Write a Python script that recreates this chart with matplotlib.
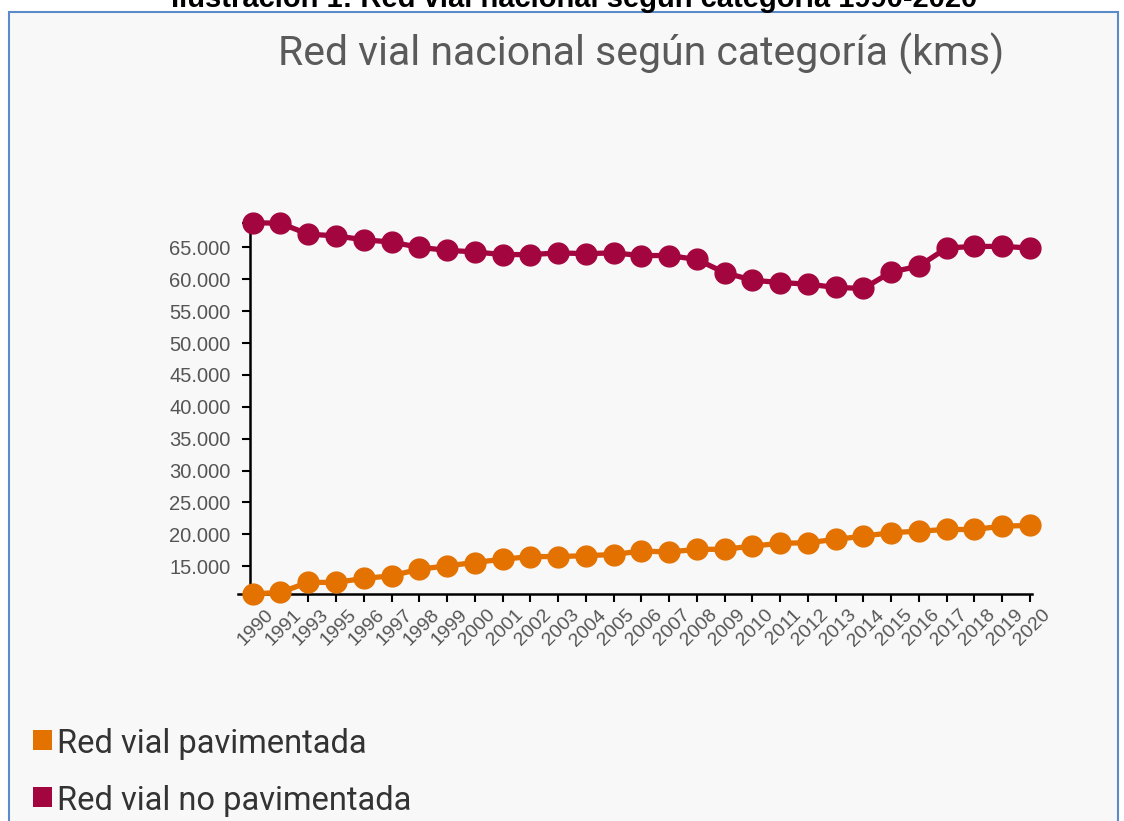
import numpy as np
import matplotlib
matplotlib.use("Agg")
import matplotlib.pyplot as plt
from matplotlib.patches import Rectangle
from matplotlib.transforms import ScaledTranslation

# datos
years = ["1990", "1991", "1993", "1995", "1996", "1997", "1998", "1999", "2000",
         "2001", "2002", "2003", "2004", "2005", "2006", "2007", "2008", "2009",
         "2010", "2011", "2012", "2013", "2014", "2015", "2016", "2017", "2018",
         "2019", "2020"]
pavimentada = [10640, 10900, 12460, 12460, 13080, 13490, 14530, 15050, 15580,
               16090, 16510, 16510, 16650, 16830, 17380, 17230, 17650, 17650,
               18160, 18580, 18690, 19200, 19720, 20250, 20500, 20760, 20760,
               21280, 21390]
no_pavimentada = [68870, 68780, 67070, 66810, 66190, 65840, 65000, 64540, 64290,
                  63870, 63870, 64130, 64020, 64130, 63720, 63720, 63100, 61040,
                  59850, 59490, 59230, 58720, 58560, 61130, 62060, 64910, 65150,
                  65150, 64910]
yticks = [15000, 20000, 25000, 30000, 35000, 40000, 45000, 50000, 55000, 60000, 65000]

naranja = "#e37200"
granate = "#a3053f"
gris = "#555555"

W, H = 1124, 821
fig = plt.figure(figsize=(W / 100, H / 100), dpi=100)
fig.patch.set_facecolor("white")

# marco azul y fondo gris claro
fig.patches.append(Rectangle((9 / W, -0.05), (1118 - 9) / W, 1.05 - 12 / H,
                             transform=fig.transFigure, facecolor="#f8f8f8",
                             edgecolor="#5b8bc9", linewidth=1.5, zorder=-10))

fig.text(574 / W, 1 - 7 / H, "Ilustración 1: Red vial nacional según categoría 1990-2020",
         ha="center", va="baseline", fontsize=21, fontweight="bold",
         family="Liberation Sans", color="black")
fig.text(641 / W, 1 - 66 / H, "Red vial nacional según categoría (kms)",
         ha="center", va="baseline", fontsize=29.5, family="Roboto", color="#5a5a5a")

left_px, right_px, top_px, bot_px = 238, 1032, 222.7, 594
ax = fig.add_axes([left_px / W, 1 - bot_px / H, (right_px - left_px) / W, (bot_px - top_px) / H])
ax.set_facecolor("none")

x = np.arange(len(years))
step = (1030 - 252.7) / (len(years) - 1)
ax.set_xlim(-(252.7 - left_px) / step, (len(years) - 1) + (right_px - 1030) / step)
ymin = min(pavimentada)
ymax = max(no_pavimentada)
ax.set_ylim(ymin, ymax)

for serie, col in [(pavimentada, naranja), (no_pavimentada, granate)]:
    ax.plot(x, serie, color=col, lw=3.8, marker="o", ms=15, mfc=col,
            mec=col, mew=1, clip_on=False, zorder=3)

for s in ["top", "right"]:
    ax.spines[s].set_visible(False)
ax.spines["left"].set_position(("data", -(252.7 - 250) / step))
ax.spines["left"].set_linewidth(1.8)
ax.spines["bottom"].set_linewidth(1.8)

ax.set_yticks(yticks)
ax.set_yticklabels([f"{v:,}".replace(",", ".") for v in yticks])
ax.set_yticks([ymax], minor=True)
ax.set_xticks(x)
ax.set_xticklabels(years, rotation=45, ha="right", rotation_mode="anchor")
ax.tick_params(axis="both", which="both", direction="out", length=6, width=1.5,
               color="black", labelcolor=gris, labelsize=14.5)
ax.tick_params(axis="x", pad=3, labelsize=14)
ax.tick_params(axis="y", pad=8)
shift = ScaledTranslation(12 / 100, 0, fig.dpi_scale_trans)
for lab in ax.get_xticklabels():
    lab.set_family("Liberation Sans")
    lab.set_transform(lab.get_transform() + shift)
for lab in ax.get_yticklabels():
    lab.set_family("Liberation Sans")

# leyenda manual
for i, (txt, col) in enumerate([("Red vial pavimentada", naranja),
                                ("Red vial no pavimentada", granate)]):
    yb = 753 + i * 57
    fig.patches.append(Rectangle((33 / W, 1 - (yb - 3) / H), 19 / W, 20 / H,
                                 transform=fig.transFigure, facecolor=col,
                                 edgecolor="none"))
    fig.text(57 / W, 1 - yb / H, txt, ha="left", va="baseline", fontsize=23.5,
             family="Roboto", color="#333333")

fig.savefig("out.png", dpi=100)
